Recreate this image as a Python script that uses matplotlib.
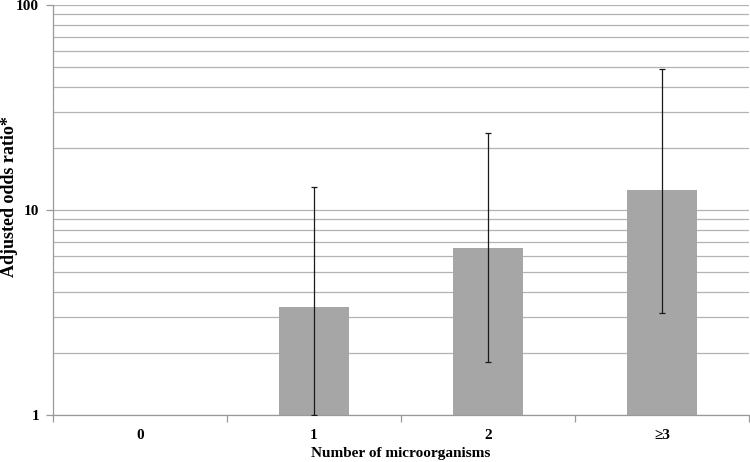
import numpy as np
import matplotlib
matplotlib.use("Agg")
import matplotlib.pyplot as plt
from matplotlib.ticker import FixedLocator, NullFormatter

# data
categories = ["0", "1", "2", "\u22653"]
odds_ratio = [1.0, 3.36, 6.5, 12.5]
ci_low = [np.nan, 1.0, 1.81, 3.15]
ci_high = [np.nan, 12.9, 23.7, 48.7]

plt.rcParams["font.family"] = ["Liberation Serif", "DejaVu Serif"]
plt.rcParams["font.weight"] = "bold"

fig = plt.figure(figsize=(7.5, 4.62), dpi=100)
ax = fig.add_axes([0.0707, 0.1017, 0.928, 0.8873])

x = np.arange(len(categories))
vals = np.array(odds_ratio)
ax.bar(x, vals - 1, bottom=1, width=0.4, color="#a6a6a6", zorder=2)

lo = np.array(ci_low)
hi = np.array(ci_high)
ax.errorbar(x, vals, yerr=[vals - lo, hi - vals], fmt="none",
            ecolor="#1a1a1a", elinewidth=0.9, capsize=2.5, capthick=0.9,
            zorder=3)

ax.set_yscale("log")
ax.set_ylim(1, 100)
ax.set_xlim(-0.5, len(categories) - 0.5)

# gridlines at every integer step of each decade
grid_vals = [m * 10 ** e for e in range(0, 2) for m in range(1, 10)] + [100]
for g in grid_vals:
    ax.axhline(g, color="#b3b3b3", lw=0.9, zorder=1)

ax.yaxis.set_major_locator(FixedLocator([1, 10, 100]))
ax.set_yticklabels(["1", "10", "100"])
ax.yaxis.set_minor_locator(FixedLocator([]))
ax.yaxis.set_minor_formatter(NullFormatter())

ax.set_xticks(x)
ax.set_xticklabels(categories)
ax.set_xticks(np.arange(-0.5, len(categories)), minor=True)
ax.tick_params(axis="x", which="major", length=0, pad=10, labelsize=11)
ax.tick_params(axis="x", which="minor", length=5, color="#999999", width=0.9)
ax.tick_params(axis="y", which="major", length=5, color="#999999", width=0.9,
               pad=5, labelsize=11)

for side in ["top", "right"]:
    ax.spines[side].set_visible(False)
for side in ["left", "bottom"]:
    ax.spines[side].set_color("#999999")
    ax.spines[side].set_linewidth(0.9)

ax.set_xlabel("Number of microorganisms", fontsize=11, fontweight="bold")
ax.xaxis.set_label_coords(0.5, -0.078)
ax.set_ylabel("Adjusted odds ratio*", fontsize=13, fontweight="bold")
ax.yaxis.set_label_coords(-0.051, 0.534)

fig.savefig("out.png", dpi=100)
